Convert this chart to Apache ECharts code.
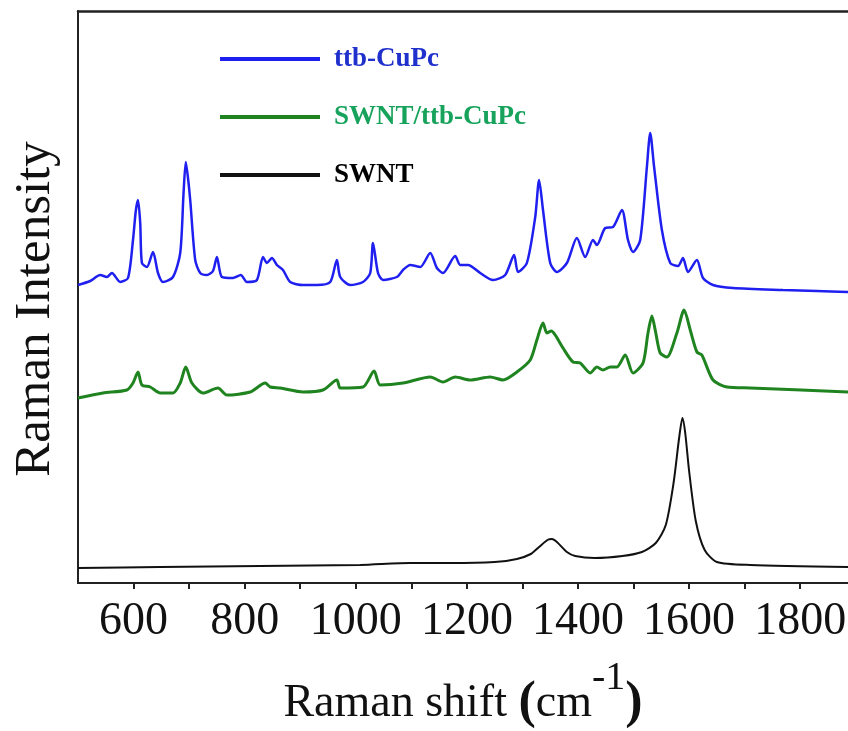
<!DOCTYPE html>
<html>
<head>
<meta charset="utf-8">
<title>Raman spectra</title>
<script src="https://cdn.jsdelivr.net/npm/echarts@6.0.0/dist/echarts.min.js"></script>
<style>
  html, body { margin: 0; padding: 0; background: #fff; }
  #chart { width: 848px; height: 731px; }
</style>
</head>
<body>
<div id="chart"></div>
<script>
  // [Raman shift (cm-1), intensity (a.u., curves offset)]
  var ttbCuPc = [
    [500, 298], [522, 302], [540, 308], [552, 306], [561, 310], [576, 301], [590, 305], [599, 343],
    [604, 372], [608, 383], [612, 360], [615, 320], [624, 316], [635, 331], [644, 310], [653, 301],
    [671, 306], [684, 330], [690, 390], [694, 421], [698, 405], [702, 383], [711, 323], [720, 310],
    [732, 308], [743, 312], [750, 326], [759, 306], [779, 305], [793, 308], [804, 301], [822, 303],
    [833, 326], [840, 320], [849, 325], [858, 318], [869, 313], [882, 301], [905, 298], [930, 298],
    [954, 301], [966, 323], [972, 306], [990, 298], [1013, 301], [1026, 310], [1031, 340], [1040, 310],
    [1049, 303], [1074, 306], [1085, 313], [1098, 318], [1116, 316], [1134, 330], [1146, 315], [1157, 310],
    [1179, 327], [1188, 318], [1202, 318], [1224, 310], [1247, 303], [1269, 308], [1285, 328], [1292, 311],
    [1308, 320], [1323, 366], [1330, 403], [1337, 373], [1350, 320], [1362, 311], [1380, 320], [1398, 345],
    [1413, 326], [1427, 343], [1434, 338], [1449, 355], [1463, 356], [1479, 373], [1490, 343], [1499, 331],
    [1512, 343], [1524, 416], [1530, 450], [1537, 416], [1551, 353], [1566, 320], [1580, 317], [1589, 325],
    [1598, 311], [1614, 323], [1625, 305], [1643, 298], [1679, 295], [1769, 293], [1830, 292], [1886, 291]
  ];
  var swntTtbCuPc = [
    [500, 185], [545, 190], [588, 193], [599, 200], [608, 211], [615, 198], [630, 196], [648, 190],
    [671, 190], [684, 200], [694, 216], [705, 200], [725, 190], [752, 195], [768, 188], [810, 191],
    [837, 200], [846, 196], [864, 195], [905, 191], [941, 193], [966, 203], [972, 195], [1013, 196],
    [1033, 212], [1044, 198], [1085, 200], [1134, 206], [1157, 201], [1179, 206], [1206, 203], [1242, 206],
    [1265, 203], [1290, 211], [1314, 223], [1326, 243], [1337, 260], [1344, 250], [1352, 252], [1359, 248],
    [1373, 235], [1391, 221], [1404, 220], [1422, 210], [1434, 216], [1445, 213], [1458, 216], [1470, 216],
    [1485, 228], [1499, 210], [1517, 220], [1526, 250], [1533, 267], [1540, 250], [1548, 230], [1560, 226],
    [1578, 250], [1591, 273], [1602, 253], [1614, 231], [1623, 228], [1643, 203], [1668, 196], [1710, 195],
    [1886, 191]
  ];
  var swnt = [
    [500, 15], [648, 16], [828, 17], [1008, 18], [1098, 20], [1170, 20], [1250, 21], [1290, 24],
    [1315, 29], [1330, 36], [1345, 43], [1353, 44], [1362, 41], [1380, 31], [1395, 27], [1430, 25],
    [1480, 27], [1515, 31], [1540, 40], [1558, 58], [1572, 100], [1582, 145], [1588, 165], [1593, 150],
    [1600, 112], [1612, 62], [1628, 33], [1650, 21], [1710, 18], [1886, 16]
  ];
  var xLabels = [600, 800, 1000, 1200, 1400, 1600, 1800];

  var names = ['ttb-CuPc', 'SWNT/ttb-CuPc', 'SWNT'];
  var lineColors = ['#1f1ff0', '#1f841f', '#111111'];
  var textColors = ['#2030cc', '#17a35c', '#000000'];
  var widths = [2.5, 3, 2];
  var datas = [ttbCuPc, swntTtbCuPc, swnt];

  var serif = '"Liberation Serif", "Times New Roman", serif';
  var chart = echarts.init(document.getElementById('chart'));

  var option = {
    animation: false,
    backgroundColor: '#fff',
    grid: { left: 78, right: 0, top: 11, bottom: 148, outerBoundsMode: 'none' },
    legend: {
      orient: 'vertical',
      left: 215,
      top: 40,
      icon: 'rect',
      itemWidth: 100,
      itemHeight: 4,
      itemGap: 30,
      textStyle: { fontFamily: serif, fontWeight: 'bold', fontSize: 27, lineHeight: 28, padding: [0, 0, 0, 9] },
      data: names.map(function (n, i) {
        return { name: n, textStyle: { color: textColors[i] } };
      })
    },
    xAxis: [{
      type: 'value',
      min: 500,
      max: 1886,
      interval: 100,
      name: '{a|Raman shift }{p|(}{a|cm}{s|-1}{p|)}',
      nameLocation: 'middle',
      nameGap: 75,
      nameTextStyle: {
        rich: {
          a: { fontFamily: serif, fontSize: 46, lineHeight: 92, color: '#111' },
          p: { fontFamily: serif, fontSize: 52, fontWeight: 'bold', lineHeight: 92, color: '#111' },
          s: { fontFamily: serif, fontSize: 40, lineHeight: 40, verticalAlign: 'top', color: '#111' }
        }
      },
      axisLine: { lineStyle: { color: '#222', width: 2 } },
      axisTick: { length: 6, lineStyle: { color: '#222', width: 2 } },
      axisLabel: {
        margin: 16,
        fontFamily: serif,
        fontSize: 46,
        color: '#111',
        showMinLabel: false,
        showMaxLabel: false,
        formatter: function (v) { return xLabels.indexOf(v) >= 0 ? String(v) : ''; }
      },
      splitLine: { show: false }
    }, {
      type: 'value',
      position: 'top',
      min: 500,
      max: 1886,
      axisLine: { onZero: false, lineStyle: { color: '#222', width: 2.5 } },
      axisTick: { show: false },
      axisLabel: { show: false },
      splitLine: { show: false }
    }],
    yAxis: {
      type: 'value',
      min: 0,
      max: 572,
      name: 'Raman Intensity',
      nameLocation: 'middle',
      nameGap: 17,
      nameTextStyle: { fontFamily: serif, fontSize: 51, color: '#111', padding: [0, 24, 0, 0] },
      axisLine: { show: true, lineStyle: { color: '#222', width: 2 } },
      axisTick: { show: false },
      axisLabel: { show: false },
      splitLine: { show: false }
    },
    series: datas.map(function (d, i) {
      return {
        name: names[i],
        type: 'line',
        xAxisIndex: 0,
        data: d,
        symbol: 'none',
        smooth: 0.25,
        lineStyle: { color: lineColors[i], width: widths[i] },
        itemStyle: { color: lineColors[i] }
      };
    })
  };

  chart.setOption(option);
</script>
</body>
</html>
